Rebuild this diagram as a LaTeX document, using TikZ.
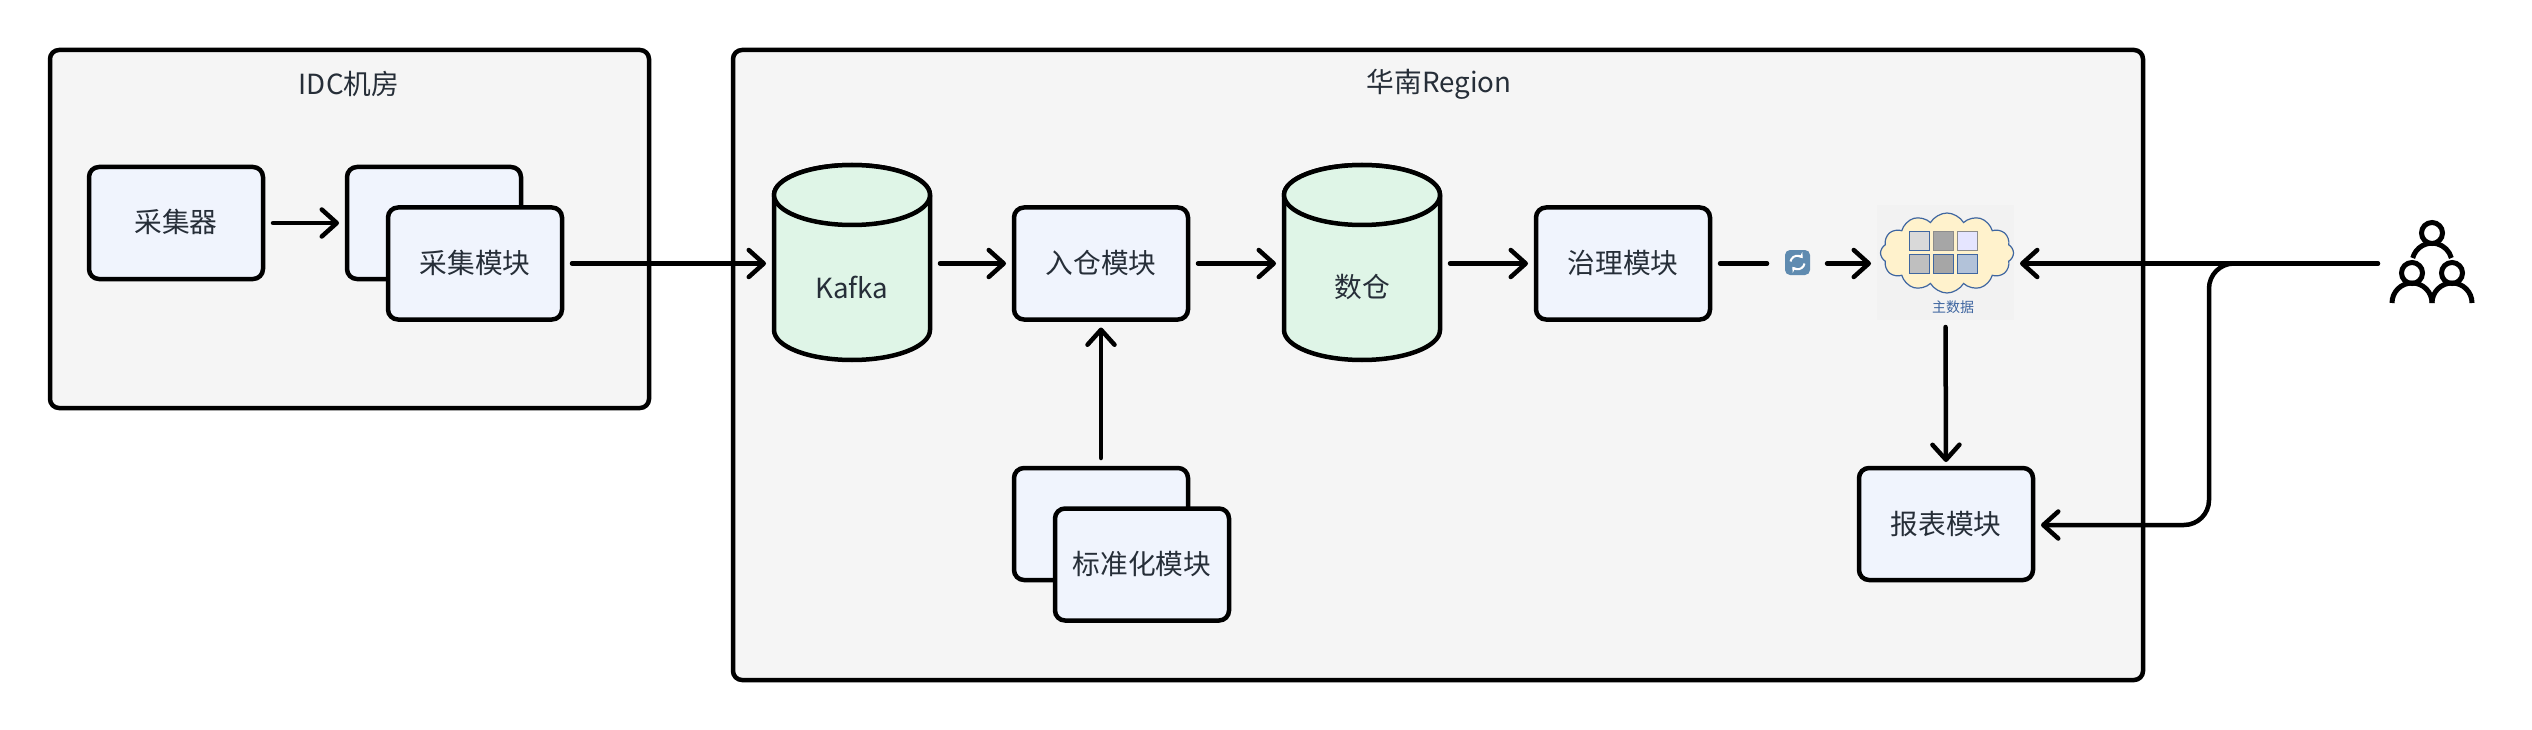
\documentclass[tikz,border=0pt]{standalone}
\usepackage{fontspec}
\setmainfont{Noto Sans CJK SC}
\usetikzlibrary{arrows.meta,shapes.symbols,calc}
\definecolor{ink}{HTML}{262E38}
\definecolor{panelc}{HTML}{F5F5F5}
\definecolor{boxc}{HTML}{F0F4FD}
\definecolor{dbc}{HTML}{DFF5E7}
\definecolor{mblue}{HTML}{3F66A0}
\definecolor{cloudc}{HTML}{FFF2CC}
\definecolor{syncc}{HTML}{5F8BB0}
\tikzset{
  x=1pt,y=1pt,
  panel/.style={draw=black,line width=4.5pt,fill=panelc,rounded corners=9pt,inner sep=0pt,outer sep=0pt},
  modbox/.style={draw=black,line width=4.5pt,fill=boxc,rounded corners=10pt,minimum width=174pt,minimum height=112pt,inner sep=0pt,outer sep=0pt,text=ink,font=\fontsize{27.7}{32}\selectfont,text height=20pt,text depth=0pt},
  dbline/.style={draw=black,line width=4.5pt,fill=dbc,line join=round},
  anchorbox/.style={minimum width=156pt,minimum height=195pt,inner sep=0pt,outer sep=0pt},
  lbl/.style={text=ink,font=\fontsize{27.7}{32}\selectfont,inner sep=0pt},
  flow/.style={line width=4.5pt,line cap=round,-{Straight Barb[length=15pt,width=27pt,round]},shorten <=10pt,shorten >=8pt},
  cell/.style={minimum width=19.5pt,minimum height=19pt,inner sep=0pt,outer sep=0pt,line width=1.2pt,draw=mblue},
}
\newcommand{\dbcyl}[3]{%
  \node[anchorbox] (#1) at (#2,-262.5) {};
  \path[dbline] (#2-78,-195) -- (#2-78,-330) arc[start angle=180,end angle=360,x radius=78,y radius=30] -- (#2+78,-195) arc[start angle=0,end angle=180,x radius=78,y radius=30] -- cycle;
  \draw[dbline] (#2,-195) ellipse[x radius=78,y radius=30];
  \node[lbl] (#1t) at (#2,-287) {#3};
}
\begin{document}
\begin{tikzpicture}
\useasboundingbox (0,0) rectangle (2532,-730);
% panels
\node[panel,minimum width=599pt,minimum height=358pt] (idc) at (349.5,-229) {};
\node[panel,minimum width=1410pt,minimum height=630pt] (south) at (1438,-365) {};
\node[lbl] (idct) at (349,-84) {IDC机房};
\node[lbl] (southt) at (1439,-84) {华南Region};
% IDC
\node[modbox] (coll) at (176,-223) {采集器};
\node[modbox] (cmb) at (434,-223) {};
\node[modbox] (cm) at (475,-263.5) {采集模块};
% stores and modules
\dbcyl{kafka}{852}{Kafka}
\node[modbox] (ingest) at (1101,-263.5) {入仓模块};
\dbcyl{dw}{1362}{数仓}
\node[modbox] (gov) at (1623,-263.5) {治理模块};
\node[modbox] (stdb) at (1101,-524) {};
\node[modbox] (std) at (1142,-564.5) {标准化模块};
\node[modbox] (report) at (1946,-524) {报表模块};
% sync icon
\node[minimum size=25pt,inner sep=0pt,outer sep=0pt,fill=syncc,rounded corners=5pt] (sync) at (1797.5,-262.5) {};
\draw[white,line width=2pt,-{Stealth[length=5pt,width=7pt]}] ($(sync.center)+(-7,1)$) arc[start angle=170,end angle=40,radius=7];
\draw[white,line width=2pt,-{Stealth[length=5pt,width=7pt]}] ($(sync.center)+(7,-1)$) arc[start angle=-10,end angle=-140,radius=7];
% master data image
\node[minimum width=137pt,minimum height=115pt,inner sep=0pt,outer sep=0pt,fill=black!5] (mdm) at (1945.5,-262.5) {};
\node[cloud,cloud puffs=12,cloud puff arc=120,aspect=1.7,draw=mblue,line width=1.2pt,fill=cloudc,minimum width=133pt,minimum height=80pt,inner sep=0pt] (cloudn) at (1947,-253) {};
\node[cell,fill=black!15] (c1) at (1919.5,-241) {};
\node[cell,fill=black!35,draw=black!45] (c2) at (1943.5,-241) {};
\node[cell,fill=blue!10!white,draw=black!45] (c3) at (1967.5,-241) {};
\node[cell,fill=black!25] (c4) at (1919.5,-264) {};
\node[cell,fill=black!35] (c5) at (1943.5,-264) {};
\node[cell,fill=mblue!40!white] (c6) at (1967.5,-264) {};
\node[text=mblue,inner sep=0pt,font=\fontsize{14}{16}\selectfont] (mdmt) at (1953,-307) {主数据};
% people icon
\node[minimum width=88pt,minimum height=72pt,inner sep=0pt,outer sep=0pt] (people) at (2432,-268) {};
\begin{scope}[line width=5pt]
\draw (2412.7,-258) arc[start angle=165,end angle=15,radius=20];
\draw[fill=white] (2432,-233) circle[radius=10.5];
\draw[fill=white] (2412,-273) circle[radius=10.5];
\draw[fill=white] (2452,-273) circle[radius=10.5];
\draw (2392,-303) arc[start angle=180,end angle=0,radius=20];
\draw (2432,-303) arc[start angle=180,end angle=0,radius=20];
\end{scope}
% connectors
\draw[flow] (coll.east) -- (coll.east -| cmb.west);
\draw[flow] (cm.east) -- (cm.east -| kafka.west);
\draw[flow] (kafka.east |- ingest.west) -- (ingest.west);
\draw[flow] (ingest.east) -- (ingest.east -| dw.west);
\draw[flow] (dw.east |- gov.west) -- (gov.west);
\draw[line width=4.5pt,line cap=round,shorten <=10pt,shorten >=18pt] (gov.east) -- (sync.west |- gov.east);
\draw[flow,shorten <=17pt,shorten >=6pt] (sync.east |- gov.east) -- (mdm.west |- gov.east);
\draw[flow] (stdb.north) -- (ingest.south);
\draw[flow,shorten <=7pt,shorten >=6pt] (mdm.south) -- (report.north);
\draw[flow,shorten <=10pt,shorten >=6pt] (people.west |- gov.east) -- (mdm.east |- gov.east);
\coordinate (branch) at (2209,-525);
\draw[line width=4.5pt,-{Straight Barb[length=15pt,width=27pt,round]},rounded corners=25pt,shorten >=8pt] (2260,-263.5) -| (branch) -- (report.east |- branch);
\end{tikzpicture}
\end{document}
